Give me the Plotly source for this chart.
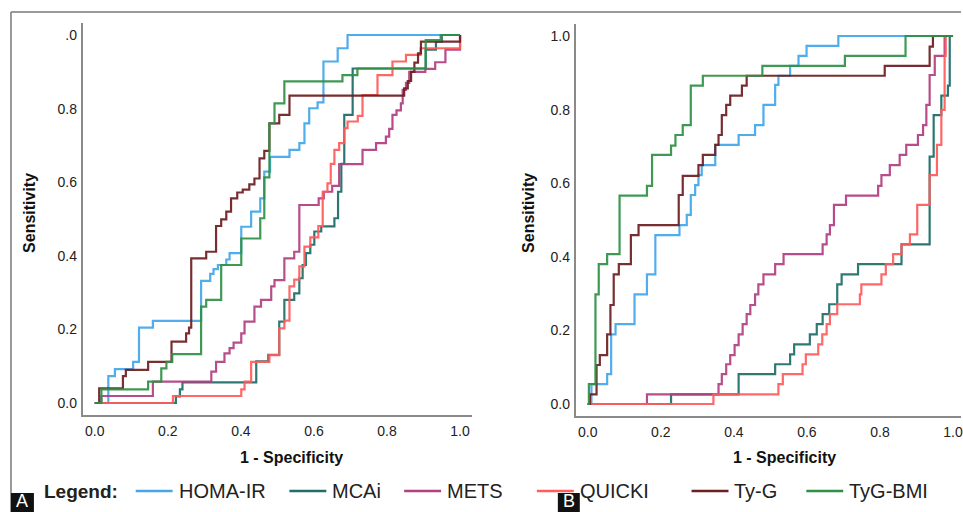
import plotly.graph_objects as go

# ---------------- data ----------------
series_names = ["HOMA-IR", "MCAi", "METS", "QUICKI", "Ty-G", "TyG-BMI"]
series_colors = ["#45a6ea", "#1e6e69", "#b23f80", "#ff5c5c", "#6e1e20", "#2f9146"]
x_tick_vals = [0.0, 0.2, 0.4, 0.6, 0.8, 1.0]
x_tick_text = ["0.0", "0.2", "0.4", "0.6", "0.8", "1.0"]
y_tick_text_a = ["0.0", "0.2", "0.4", "0.6", "0.8", ".0"]
y_tick_text_b = ["0.0", "0.2", "0.4", "0.6", "0.8", "1.0"]

# Panel A  (1 - specificity, sensitivity)
a_homa_fpr = [0, 0.037, 0.055, 0.105, 0.121, 0.159, 0.291, 0.316, 0.325, 0.337, 0.36, 0.369, 0.401, 0.428, 0.453, 0.464, 0.48, 0.533, 0.56, 0.574, 0.587, 0.61, 0.626, 0.665, 0.692, 1.0]
a_homa_tpr = [0, 0.073, 0.092, 0.112, 0.205, 0.223, 0.332, 0.351, 0.364, 0.375, 0.39, 0.407, 0.479, 0.52, 0.556, 0.629, 0.669, 0.688, 0.706, 0.76, 0.801, 0.817, 0.928, 0.964, 1.0, 1.0]

a_mcai_fpr = [0, 0.222, 0.233, 0.24, 0.442, 0.475, 0.505, 0.519, 0.546, 0.56, 0.569, 0.578, 0.59, 0.601, 0.62, 0.656, 0.666, 0.675, 0.683, 0.706, 0.906, 0.934, 0.95, 1.0]
a_mcai_tpr = [0, 0.018, 0.037, 0.056, 0.113, 0.131, 0.221, 0.28, 0.298, 0.339, 0.375, 0.407, 0.43, 0.466, 0.48, 0.502, 0.574, 0.65, 0.783, 0.909, 0.96, 0.982, 1.0, 1.0]

a_mets_fpr = [0, 0.018, 0.159, 0.319, 0.332, 0.355, 0.369, 0.38, 0.401, 0.41, 0.437, 0.455, 0.483, 0.492, 0.519, 0.546, 0.56, 0.613, 0.627, 0.65, 0.669, 0.733, 0.77, 0.797, 0.806, 0.815, 0.826, 0.838, 0.843, 0.852, 0.861, 0.905, 0.932, 0.96, 1.0]
a_mets_tpr = [0, 0.019, 0.058, 0.085, 0.112, 0.135, 0.149, 0.164, 0.189, 0.221, 0.262, 0.28, 0.317, 0.334, 0.393, 0.411, 0.538, 0.556, 0.574, 0.59, 0.649, 0.688, 0.706, 0.724, 0.745, 0.783, 0.795, 0.814, 0.851, 0.87, 0.9, 0.908, 0.926, 0.96, 1.0]

a_quicki_fpr = [0, 0.214, 0.401, 0.41, 0.428, 0.478, 0.505, 0.519, 0.533, 0.546, 0.56, 0.574, 0.59, 0.612, 0.624, 0.637, 0.646, 0.656, 0.669, 0.683, 0.692, 0.72, 0.733, 0.774, 0.815, 0.852, 0.892, 1.0]
a_quicki_tpr = [0, 0.019, 0.037, 0.058, 0.112, 0.13, 0.203, 0.224, 0.317, 0.335, 0.371, 0.425, 0.45, 0.481, 0.574, 0.597, 0.65, 0.688, 0.706, 0.747, 0.765, 0.78, 0.837, 0.891, 0.928, 0.946, 0.964, 1.0]

a_tyg_fpr = [0, 0.012, 0.077, 0.085, 0.146, 0.21, 0.25, 0.258, 0.264, 0.305, 0.332, 0.346, 0.36, 0.373, 0.39, 0.405, 0.423, 0.437, 0.451, 0.464, 0.478, 0.505, 0.533, 0.847, 0.857, 0.866, 0.875, 0.885, 0.893, 1.0]
a_tyg_tpr = [0, 0.04, 0.073, 0.09, 0.112, 0.167, 0.189, 0.205, 0.393, 0.411, 0.481, 0.499, 0.52, 0.556, 0.572, 0.58, 0.594, 0.61, 0.665, 0.685, 0.76, 0.783, 0.835, 0.855, 0.875, 0.9, 0.925, 0.95, 0.982, 1.0]

a_tygbmi_fpr = [0, 0.018, 0.146, 0.182, 0.196, 0.212, 0.291, 0.305, 0.346, 0.401, 0.453, 0.464, 0.478, 0.492, 0.519, 0.678, 0.719, 0.906, 0.947, 1.0]
a_tygbmi_tpr = [0, 0.037, 0.058, 0.094, 0.112, 0.133, 0.262, 0.28, 0.375, 0.447, 0.502, 0.613, 0.76, 0.814, 0.874, 0.891, 0.909, 0.986, 1.0, 1.0]

# Panel B
b_homa_fpr = [0, 0.01, 0.053, 0.064, 0.076, 0.128, 0.162, 0.185, 0.251, 0.271, 0.282, 0.294, 0.303, 0.312, 0.349, 0.413, 0.458, 0.481, 0.513, 0.522, 0.554, 0.577, 0.599, 0.686, 1.0]
b_homa_tpr = [0, 0.054, 0.081, 0.189, 0.217, 0.298, 0.352, 0.459, 0.486, 0.514, 0.568, 0.595, 0.622, 0.649, 0.704, 0.731, 0.758, 0.813, 0.867, 0.892, 0.919, 0.946, 0.973, 1.0, 1.0]

b_mcai_fpr = [0, 0.228, 0.413, 0.513, 0.554, 0.565, 0.608, 0.627, 0.643, 0.661, 0.683, 0.695, 0.74, 0.859, 0.936, 0.947, 0.968, 0.986, 0.991, 1.0]
b_mcai_tpr = [0, 0.026, 0.081, 0.108, 0.135, 0.162, 0.189, 0.217, 0.244, 0.271, 0.325, 0.352, 0.38, 0.434, 0.672, 0.785, 0.838, 0.865, 1.0, 1.0]

b_mets_fpr = [0, 0.162, 0.358, 0.367, 0.379, 0.39, 0.402, 0.413, 0.424, 0.435, 0.445, 0.458, 0.467, 0.481, 0.513, 0.536, 0.643, 0.654, 0.663, 0.674, 0.707, 0.795, 0.804, 0.827, 0.854, 0.872, 0.904, 0.918, 0.927, 0.936, 0.95, 0.977, 1.0]
b_mets_tpr = [0, 0.026, 0.054, 0.081, 0.108, 0.133, 0.16, 0.189, 0.217, 0.244, 0.269, 0.298, 0.325, 0.352, 0.38, 0.407, 0.434, 0.461, 0.486, 0.541, 0.566, 0.593, 0.622, 0.649, 0.677, 0.704, 0.731, 0.758, 0.813, 0.894, 0.946, 1.0, 1.0]

b_quicki_fpr = [0, 0.344, 0.522, 0.534, 0.588, 0.597, 0.631, 0.642, 0.654, 0.663, 0.683, 0.745, 0.749, 0.804, 0.816, 0.836, 0.859, 0.882, 0.902, 0.936, 0.956, 0.968, 0.977, 0.98, 1.0]
b_quicki_tpr = [0, 0.026, 0.054, 0.081, 0.108, 0.135, 0.162, 0.189, 0.217, 0.244, 0.271, 0.298, 0.325, 0.352, 0.38, 0.407, 0.434, 0.461, 0.541, 0.622, 0.704, 0.799, 0.946, 1.0, 1.0]

b_tyg_fpr = [0, 0.006, 0.024, 0.033, 0.053, 0.062, 0.071, 0.085, 0.118, 0.139, 0.249, 0.26, 0.303, 0.315, 0.349, 0.358, 0.367, 0.379, 0.39, 0.422, 0.435, 0.813, 0.936, 0.945, 1.0]
b_tyg_tpr = [0, 0.026, 0.106, 0.133, 0.189, 0.269, 0.352, 0.38, 0.459, 0.486, 0.568, 0.62, 0.649, 0.677, 0.704, 0.731, 0.785, 0.813, 0.838, 0.865, 0.892, 0.919, 0.971, 1.0, 1.0]

b_tygbmi_fpr = [0, 0.003, 0.021, 0.03, 0.053, 0.087, 0.162, 0.176, 0.228, 0.24, 0.26, 0.282, 0.315, 0.478, 0.704, 0.87, 1.0]
b_tygbmi_tpr = [0, 0.054, 0.298, 0.38, 0.407, 0.566, 0.593, 0.677, 0.702, 0.731, 0.758, 0.865, 0.892, 0.919, 0.946, 1.0, 1.0]

panel_a = [(a_homa_fpr, a_homa_tpr), (a_mcai_fpr, a_mcai_tpr), (a_mets_fpr, a_mets_tpr),
           (a_quicki_fpr, a_quicki_tpr), (a_tyg_fpr, a_tyg_tpr), (a_tygbmi_fpr, a_tygbmi_tpr)]
panel_b = [(b_homa_fpr, b_homa_tpr), (b_mcai_fpr, b_mcai_tpr), (b_mets_fpr, b_mets_tpr),
           (b_quicki_fpr, b_quicki_tpr), (b_tyg_fpr, b_tyg_tpr), (b_tygbmi_fpr, b_tygbmi_tpr)]

# ---------------- figure ----------------
W, H = 963, 512
FONT = "Liberation Sans, Arial, sans-serif"

fig = go.Figure()
for (xs, ys), name, col in zip(panel_a, series_names, series_colors):
    fig.add_trace(go.Scatter(x=xs, y=ys, mode="lines", name=name, line=dict(color=col, width=2.2, shape="hv"),
                             opacity=0.92, xaxis="x", yaxis="y", showlegend=False))
for (xs, ys), name, col in zip(panel_b, series_names, series_colors):
    fig.add_trace(go.Scatter(x=xs, y=ys, mode="lines", name=name, line=dict(color=col, width=2.2, shape="hv"),
                             opacity=0.92, xaxis="x2", yaxis="y2", showlegend=False))

def px_x(p):
    return p / W

def px_y(p):
    return 1 - p / H

axis_common = dict(showgrid=False, zeroline=False, showline=True, linecolor="#8a8a8a", linewidth=2,
                   ticks="", tickfont=dict(family=FONT, size=14, color="#222222"), fixedrange=True,
                   ticklabeloverflow="allow")

fig.update_layout(
    width=W, height=H, margin=dict(l=0, r=0, t=0, b=0),
    paper_bgcolor="white", plot_bgcolor="white", showlegend=False,
    xaxis=dict(domain=[px_x(83), px_x(473)], range=[-0.0328, 1.0328], anchor="y",
               tickvals=x_tick_vals, ticktext=x_tick_text, ticklabelstandoff=2, **axis_common),
    yaxis=dict(domain=[px_y(415), px_y(23)], range=[-0.0326, 1.0326], anchor="x",
               tickvals=x_tick_vals, ticktext=y_tick_text_a, ticklabelstandoff=1, **axis_common),
    xaxis2=dict(domain=[px_x(577), 1.0], range=[-0.0328, (963 - 589) / 366], anchor="y2",
                tickvals=x_tick_vals, ticktext=x_tick_text, ticklabelstandoff=2, **axis_common),
    yaxis2=dict(domain=[px_y(416), px_y(24)], range=[-0.0326, 1.0326], anchor="x2",
                tickvals=x_tick_vals, ticktext=y_tick_text_b, ticklabelstandoff=1, **axis_common),
)

ann = []
shapes = []
# axis titles
title_font = dict(family=FONT, size=16, color="#111111")
for cx in (292, 786):
    ann.append(dict(x=px_x(cx), y=px_y(457), xref="paper", yref="paper", text="<b>1 - Specificity</b>",
                    showarrow=False, font=title_font, xanchor="center", yanchor="middle"))
for cx in (29, 529):
    ann.append(dict(x=px_x(cx), y=px_y(213), xref="paper", yref="paper", text="<b>Sensitivity</b>",
                    showarrow=False, font=title_font, textangle=-90, xanchor="center", yanchor="middle"))

# frame lines
shapes.append(dict(type="line", xref="paper", yref="paper", x0=px_x(11), x1=1.0, y0=px_y(12), y1=px_y(12),
                   line=dict(color="#7a7a7a", width=1.5)))
shapes.append(dict(type="line", xref="paper", yref="paper", x0=px_x(11), x1=px_x(11), y0=px_y(12), y1=0,
                   line=dict(color="#7a7a7a", width=1.5)))

# legend row
leg_y = px_y(491)
ann.append(dict(x=px_x(42), y=leg_y, xref="paper", yref="paper", text="<b>Legend:</b>", showarrow=False,
                font=dict(family=FONT, size=19, color="#222222"), xanchor="left", yanchor="middle"))
leg_line_start = [136, 290, 405, 538, 693, 808]
for name, col, x0 in zip(series_names, series_colors, leg_line_start):
    shapes.append(dict(type="line", xref="paper", yref="paper", x0=px_x(x0), x1=px_x(x0 + 37),
                       y0=leg_y, y1=leg_y, line=dict(color=col, width=2.5)))
    ann.append(dict(x=px_x(x0 + 41), y=leg_y, xref="paper", yref="paper", text=name, showarrow=False,
                    font=dict(family=FONT, size=20, color="#222222"), xanchor="left", yanchor="middle"))

# panel letters
for letter, x0, x1 in (("A", 11, 34), ("B", 559, 581)):
    shapes.append(dict(type="rect", xref="paper", yref="paper", x0=px_x(x0), x1=px_x(x1), y0=0, y1=px_y(493),
                       fillcolor="#111111", line=dict(width=0), layer="above"))
    ann.append(dict(x=px_x((x0 + x1) / 2), y=0, xref="paper", yref="paper", text=letter,
                    showarrow=False, font=dict(family=FONT, size=18, color="white"),
                    xanchor="center", yanchor="bottom", borderpad=0))

fig.update_layout(annotations=ann, shapes=shapes)
fig.write_html("out.html", config={"displayModeBar": False},
               post_script="document.body.style.margin='0';document.body.style.overflow='hidden';")
